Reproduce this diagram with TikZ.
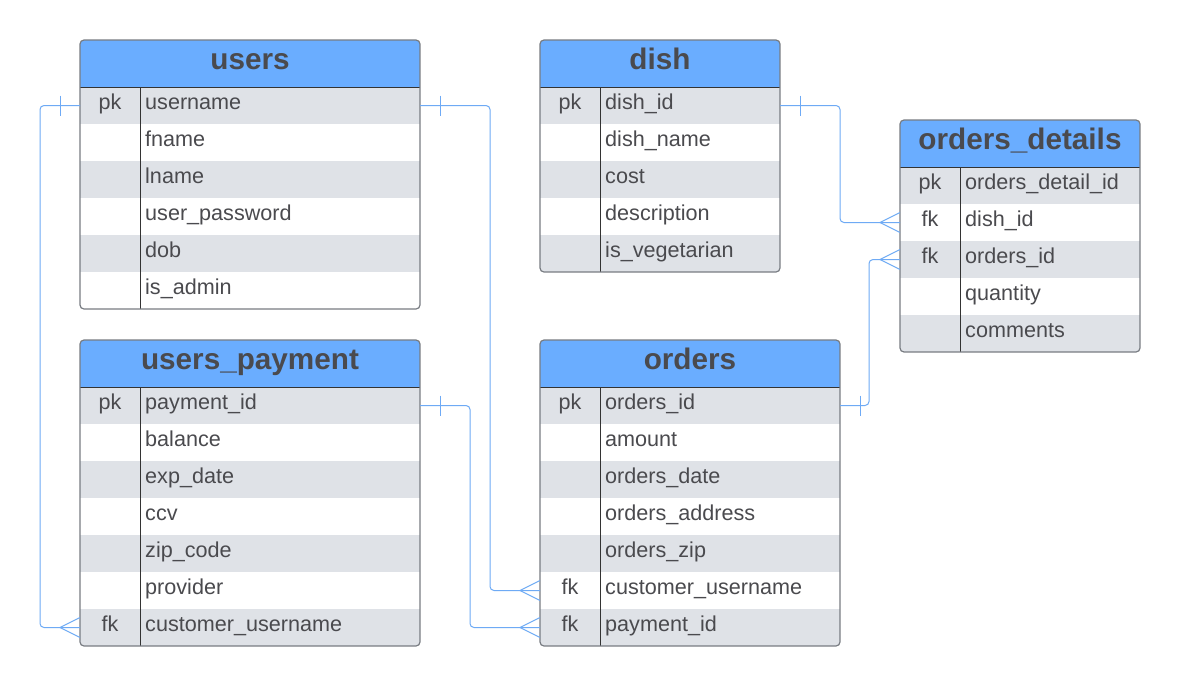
\documentclass[tikz,border=0pt]{standalone}
\usepackage{fontspec}
\setmainfont{Liberation Sans}
\definecolor{hdr}{RGB}{106,173,255}
\definecolor{rowgrey}{RGB}{223,226,231}
\definecolor{txt}{RGB}{74,74,78}
\definecolor{bord}{RGB}{120,124,130}
\definecolor{conncol}{RGB}{110,170,245}
\tikzset{
  tabletitle/.style={font=\fontsize{29.7}{30}\selectfont\bfseries, text=txt, inner sep=0, anchor=base},
  fieldtext/.style={font=\fontsize{21.6}{22}\selectfont, text=txt, anchor=base west, inner sep=0},
  keytext/.style={font=\fontsize{21.6}{22}\selectfont, text=txt, inner sep=0, anchor=base},
  rowbox/.style={draw=none, minimum height=37pt, inner sep=0, outer sep=0, anchor=north west},
  connline/.style={draw=conncol, line width=1pt},
}
% name, x, y(top), width, nrows, title, fields
\newcommand\ertable[7]{%
  \pgfmathsetmacro\tabbot{#3+47+37*#5}
  \begin{scope}
    \clip[rounded corners=4] (#2,#3) rectangle (#2+#4,\tabbot);
    \node[rowbox, fill=hdr, minimum width=#4 pt, minimum height=47pt] (#1-h) at (#2,#3) {};
    \node[tabletitle] at (#2+#4/2, #3+29.5) {#6};
    \foreach \k/\f [count=\i from 0] in {#7} {
      \pgfmathtruncatemacro\rowpar{mod(\i,2)}
      \ifnum\rowpar=0 \def\rowcol{rowgrey}\else\def\rowcol{white}\fi
      \node[rowbox, fill=\rowcol, minimum width=#4 pt] (#1-\i) at (#2, #3+47+37*\i) {};
      \node[keytext] at (#2+30, #3+47+37*\i+22.5) {\k};
      \node[fieldtext] at (#2+65, #3+47+37*\i+22.5) {\f};
    }
  \end{scope}
  \draw[black!80, line width=0.8] (#2,#3+47) -- (#2+#4,#3+47);
  \draw[black!80, line width=0.8] (#2+60,#3+47) -- (#2+60,\tabbot);
  \draw[bord, line width=1.2, rounded corners=4] (#2,#3) rectangle (#2+#4,\tabbot);
}
\newcommand\onetick[2]{\draw[connline] ([xshift=#2]#1) ++(0,-10) -- ++(0,20);}
\newcommand\crowfoot[2]{\draw[connline] ([yshift=10pt]#1) -- ([xshift=#2]#1) -- ([yshift=-10pt]#1);}
\begin{document}
\begin{tikzpicture}[x=1pt,y=-1pt]
\useasboundingbox[fill=white] (0,0) rectangle (1181,686);
\ertable{users}{80}{40}{340}{6}{users}{pk/username, /fname, /lname, /user\_password, /dob, /is\_admin}
\ertable{dish}{540}{40}{240}{5}{dish}{pk/dish\_id, /dish\_name, /cost, /description, /is\_vegetarian}
\ertable{odet}{900}{120}{240}{5}{orders\_details}{pk/orders\_detail\_id, fk/dish\_id, fk/orders\_id, /quantity, /comments}
\ertable{upay}{80}{340}{340}{7}{users\_payment}{pk/payment\_id, /balance, /exp\_date, /ccv, /zip\_code, /provider, fk/customer\_username}
\ertable{orders}{540}{340}{300}{7}{orders}{pk/orders\_id, /amount, /orders\_date, /orders\_address, /orders\_zip, fk/customer\_username, fk/payment\_id}

% users.username -> orders.customer_username
\draw[connline, rounded corners=4] (users-0.east) -- ++(70,0) |- (orders-5.west);
\onetick{users-0.east}{20pt}
\crowfoot{orders-5.west}{-20pt}
% users.username -> users_payment.customer_username
\draw[connline, rounded corners=4] (users-0.west) -- ++(-40,0) |- (upay-6.west);
\onetick{users-0.west}{-20pt}
\crowfoot{upay-6.west}{-20pt}
% users_payment.payment_id -> orders.payment_id
\draw[connline, rounded corners=4] (upay-0.east) -- ++(50,0) |- (orders-6.west);
\onetick{upay-0.east}{20pt}
\crowfoot{orders-6.west}{-20pt}
% dish.dish_id -> orders_details.dish_id
\draw[connline, rounded corners=4] (dish-0.east) -- ++(60,0) |- (odet-1.west);
\onetick{dish-0.east}{20pt}
\crowfoot{odet-1.west}{-20pt}
% orders.orders_id -> orders_details.orders_id
\draw[connline, rounded corners=4] (orders-0.east) -- ++(29,0) |- (odet-2.west);
\onetick{orders-0.east}{20pt}
\crowfoot{odet-2.west}{-20pt}
\end{tikzpicture}
\end{document}
